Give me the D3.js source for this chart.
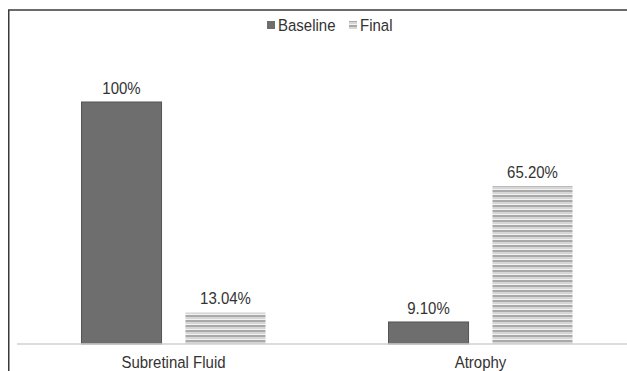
<!DOCTYPE html>
<html>
<head>
<meta charset="utf-8">
<script src="https://cdn.jsdelivr.net/npm/d3@7"></script>
<style>
  html, body { margin: 0; padding: 0; background: #fff; }
  svg { display: block; font-family: "Liberation Sans", Arial, sans-serif; }
</style>
</head>
<body>
<svg id="chart" width="627" height="371"></svg>
<script>
// Chart data
const categories = ["Subretinal Fluid", "Atrophy"];
const seriesNames = ["Baseline", "Final"];
const baselineValues = [100, 9.10];
const finalValues = [13.04, 65.20];
const valueLabels = [["100%", "13.04%"], ["9.10%", "65.20%"]];

const svg = d3.select("#chart");
const W = 627, H = 371;
const FONT = "Liberation Sans, Arial, sans-serif";
const STRETCH = 1.15; // slightly tall lettering

// Place a text element at (x, y) with a vertical stretch about its baseline
function tallText(parent, x, y, str, size, anchor) {
  return parent.append("text")
    .attr("transform", `translate(${x},${y}) scale(1,${STRETCH})`)
    .attr("text-anchor", anchor || "middle")
    .attr("font-size", size)
    .attr("font-family", FONT)
    .attr("fill", "#333")
    .text(str);
}

// Horizontal-stripe pattern for the "Final" series
const defs = svg.append("defs");
const pat = defs.append("pattern")
  .attr("id", "stripes")
  .attr("patternUnits", "userSpaceOnUse")
  .attr("width", 8).attr("height", 5);
pat.append("rect").attr("width", 8).attr("height", 5).attr("fill", "#f2f2f2");
pat.append("rect").attr("y", 0).attr("width", 8).attr("height", 2).attr("fill", "#a9a9a9");
pat.append("rect").attr("y", 2).attr("width", 8).attr("height", 2).attr("fill", "#d6d6d6");

// Frame lines (top and left)
svg.append("line").attr("x1", 8).attr("x2", W).attr("y1", 10).attr("y2", 10)
  .attr("stroke", "#3a3a3a").attr("stroke-width", 1.5);
svg.append("line").attr("x1", 8.75).attr("x2", 8.75).attr("y1", 10).attr("y2", H)
  .attr("stroke", "#3a3a3a").attr("stroke-width", 1.5);

const baseY = 344;
const x0 = d3.scaleBand().domain(categories).range([20, 634]).paddingInner(0).paddingOuter(0);
const x1 = d3.scaleBand().domain(seriesNames).range([0, 184]).paddingInner(0.23);
const y = d3.scaleLinear().domain([0, 100]).range([baseY, 102]);

const groupOffset = (x0.bandwidth() - 184) / 2;

const colors = { Baseline: "#6e6e6e", Final: "url(#stripes)" };

categories.forEach((cat, i) => {
  const g = svg.append("g").attr("transform", `translate(${x0(cat) + groupOffset},0)`);
  const vals = [baselineValues[i], finalValues[i]];
  seriesNames.forEach((s, j) => {
    const v = vals[j];
    g.append("rect")
      .attr("x", x1(s))
      .attr("y", y(v))
      .attr("width", x1.bandwidth())
      .attr("height", baseY - y(v))
      .attr("fill", colors[s])
      .attr("stroke", s === "Baseline" ? "#555" : "none")
      .attr("stroke-width", 1);
    tallText(g, x1(s) + x1.bandwidth() / 2, y(v) - 8, valueLabels[i][j], 15);
  });
});

// Category axis
const axis = svg.append("g").attr("transform", `translate(0,${baseY})`)
  .call(d3.axisBottom(x0).tickSize(0).tickFormat(""));
axis.select(".domain").attr("stroke", "#d0d0d0").attr("stroke-width", 1.5)
  .attr("d", `M17,0H${W}`);
axis.selectAll(".tick").each(function(d) {
  tallText(d3.select(this), 0, 24, d, 15);
});

// Legend
const legend = svg.append("g").attr("transform", "translate(0,25)");
const legendItems = [
  { name: "Baseline", x: 267, fill: "#6e6e6e" },
  { name: "Final", x: 349, fill: "url(#stripes)" }
];
legendItems.forEach(d => {
  legend.append("rect").attr("x", d.x).attr("y", -4).attr("width", 8).attr("height", 8)
    .attr("fill", d.fill);
  tallText(legend, d.x + 11, 6, d.name, 15, "start");
});
</script>
</body>
</html>
